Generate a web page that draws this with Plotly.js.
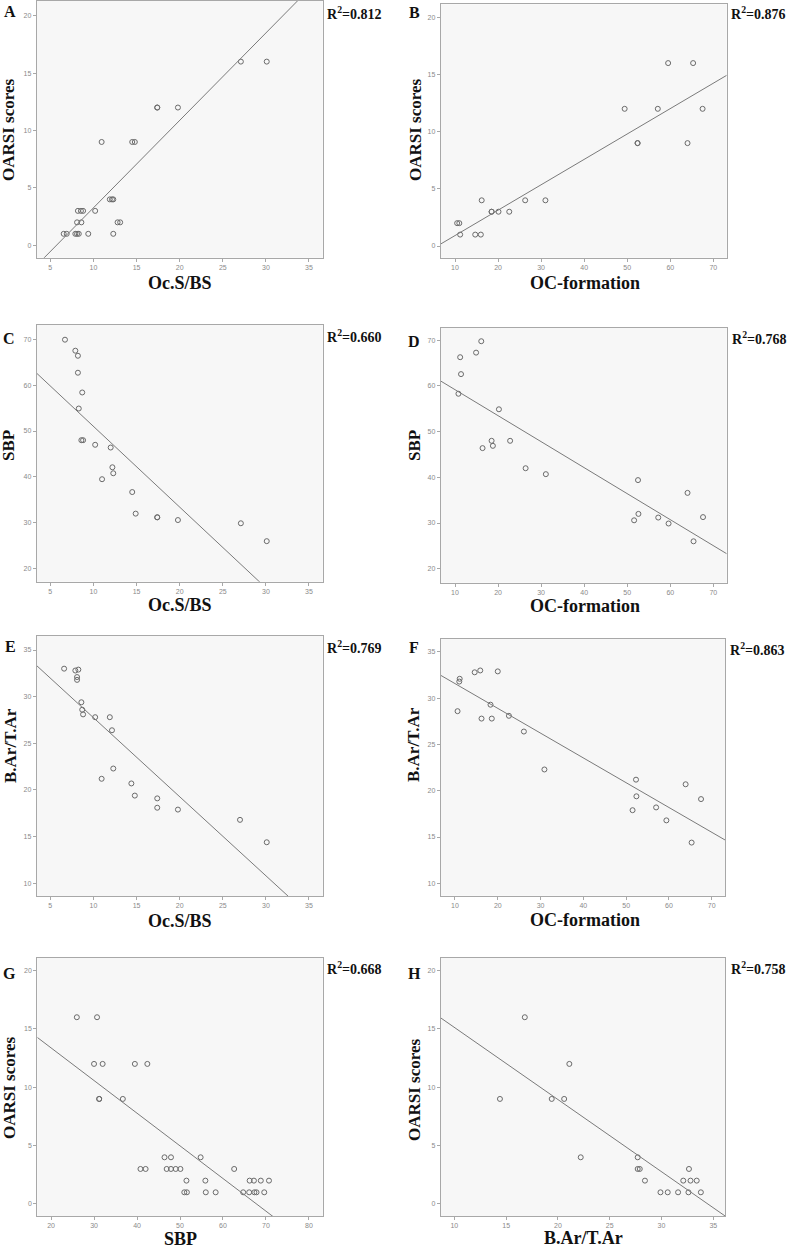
<!DOCTYPE html>
<html>
<head>
<meta charset="utf-8">
<script src="https://cdn.plot.ly/plotly-3.0.1.min.js"></script>
<style>html,body{margin:0;padding:0;background:#fff;}#chart{width:787px;height:1249px;}</style>
</head>
<body>
<div id="chart"></div>
<script>
// ---------- Data ----------
// Panel A: Oc.S/BS vs OARSI scores
const aX = [27.1, 30.1, 17.4, 17.4, 19.8, 10.95, 14.5, 14.8, 11.9, 12.15, 12.3, 8.2, 8.55, 8.8, 10.2, 8.1, 8.6, 12.8, 13.1, 6.55, 6.9, 7.9, 8.1, 8.3, 9.4, 12.3];
const aY = [16, 16, 12, 12, 12, 9, 9, 9, 4, 4, 4, 3, 3, 3, 3, 2, 2, 2, 2, 1, 1, 1, 1, 1, 1, 1];
// Panel B: OC-formation vs OARSI scores
const bX = [59.5, 65.3, 49.4, 57.1, 67.5, 52.4, 52.4, 64.0, 16.2, 26.3, 31.0, 18.5, 18.5, 20.1, 22.6, 10.5, 11.0, 11.2, 14.7, 16.0];
const bY = [16, 16, 12, 12, 12, 9, 9, 9, 4, 4, 4, 3, 3, 3, 3, 2, 2, 1, 1, 1];
// Panel C: Oc.S/BS vs SBP
const cX = [6.7, 7.9, 8.2, 8.2, 8.7, 8.3, 8.6, 8.8, 10.2, 12.0, 12.2, 12.3, 11.0, 14.5, 14.9, 17.4, 17.4, 19.8, 27.1, 30.1];
const cY = [69.9, 67.5, 66.4, 62.7, 58.4, 54.9, 48.0, 48.0, 47.0, 46.4, 42.1, 40.8, 39.5, 36.7, 32.0, 31.2, 31.2, 30.6, 29.9, 26.0];
// Panel D: OC-formation vs SBP
const dX = [16.1, 11.2, 14.9, 11.4, 10.8, 20.2, 18.5, 18.8, 22.8, 16.4, 26.4, 31.1, 52.5, 52.6, 51.6, 57.2, 59.6, 64.0, 67.6, 65.4];
const dY = [69.8, 66.3, 67.3, 62.6, 58.3, 54.9, 48.0, 46.9, 48.0, 46.4, 42.0, 40.7, 39.4, 32.0, 30.6, 31.2, 29.9, 36.6, 31.3, 26.0];
// Panel E: Oc.S/BS vs B.Ar/T.Ar
const eX = [6.6, 7.9, 8.25, 8.1, 8.1, 8.6, 8.7, 8.8, 10.2, 11.9, 12.15, 12.3, 10.95, 14.4, 14.8, 17.4, 17.4, 19.8, 27.0, 30.1];
const eY = [33.0, 32.8, 32.9, 32.1, 31.8, 29.4, 28.6, 28.1, 27.8, 27.8, 26.4, 22.3, 21.2, 20.7, 19.4, 19.1, 18.1, 17.9, 16.8, 14.4];
// Panel F: OC-formation vs B.Ar/T.Ar
const fX = [11.1, 11.0, 10.6, 14.6, 15.9, 20.0, 18.3, 16.2, 18.6, 22.6, 26.1, 30.9, 52.3, 52.4, 51.5, 57.0, 59.4, 63.9, 67.5, 65.3];
const fY = [32.1, 31.8, 28.6, 32.8, 33.0, 32.9, 29.3, 27.8, 27.8, 28.1, 26.4, 22.3, 21.2, 19.4, 17.9, 18.2, 16.8, 20.7, 19.1, 14.4];
// Panel G: SBP vs OARSI scores
const gX = [26.0, 30.7, 30.0, 32.0, 39.5, 42.4, 31.2, 31.2, 36.7, 46.4, 47.9, 54.8, 40.8, 42.0, 46.9, 47.9, 49.0, 50.1, 62.6, 51.5, 55.9, 66.2, 67.2, 68.8, 70.7, 51.0, 51.6, 56.0, 58.3, 64.7, 66.1, 67.3, 67.8, 69.6];
const gY = [16, 16, 12, 12, 12, 12, 9, 9, 9, 4, 4, 4, 3, 3, 3, 3, 3, 3, 3, 2, 2, 2, 2, 2, 2, 1, 1, 1, 1, 1, 1, 1, 1, 1];
// Panel H: B.Ar/T.Ar vs OARSI scores
const hX = [16.8, 21.1, 14.4, 19.4, 20.6, 22.2, 27.7, 27.7, 27.9, 32.65, 28.4, 32.1, 32.8, 33.4, 29.9, 30.6, 31.6, 32.6, 33.8];
const hY = [16, 12, 9, 9, 9, 4, 4, 3, 3, 3, 2, 2, 2, 2, 1, 1, 1, 1, 1];

// Fit lines (slope, intercept) and R²
const fitSlope = [0.7615, 0.2221, -1.759, -0.5692, -0.847, -0.2678, -0.2798, -0.6182];
const fitIntercept = [-4.35, -1.306, 68.61, 64.89, 36.22, 34.26, 18.97, 21.31];
const r2Labels = ["0.812", "0.876", "0.660", "0.768", "0.769", "0.863", "0.668", "0.758"];
const panelLetters = ["A", "B", "C", "D", "E", "F", "G", "H"];
const xTitles = ["Oc.S/BS", "OC-formation", "Oc.S/BS", "OC-formation", "Oc.S/BS", "OC-formation", "SBP", "B.Ar/T.Ar"];
const yTitles = ["OARSI scores", "OARSI scores", "SBP", "SBP", "B.Ar/T.Ar", "B.Ar/T.Ar", "OARSI scores", "OARSI scores"];

const seriesX = [aX, bX, cX, dX, eX, fX, gX, hX];
const seriesY = [aY, bY, cY, dY, eY, fY, gY, hY];

// ---------- Layout geometry (pixels) ----------
const W = 787, H = 1249;
const boxes = [ // [left, right, top, bottom]
  [36.7, 322.7, 1, 257.7],
  [440.7, 726.7, 4.3, 257.7],
  [36.7, 322.7, 325, 581.7],
  [440.7, 726.7, 327.7, 582.7],
  [36.7, 322.7, 636, 896],
  [440.7, 725, 639, 895.7],
  [37.3, 322.7, 957.7, 1216],
  [440.7, 725, 957.7, 1216]
];
const xRanges = [[3.42, 36.59], [6.68, 73.1], [3.42, 36.59], [6.68, 73.1], [3.42, 36.59], [6.66, 73.1], [16.8, 83.2], [8.68, 36.13]];
const yRanges = [[-1.08, 21.28], [-1.02, 21.14], [17.17, 73.1], [16.94, 72.76], [8.64, 36.5], [8.66, 36.4], [-1.03, 21.1], [-1.03, 21.1]];
const xDtick = [5, 10, 5, 10, 5, 10, 10, 5];
const xTick0 = [5, 10, 5, 10, 5, 10, 20, 10];
const yDtick = [5, 5, 10, 10, 5, 5, 5, 5];
const yTick0 = [0, 0, 20, 20, 10, 10, 0, 0];

const letterPos = [[10, 11], [414, 12], [9, 339], [414, 341], [10, 646], [414, 647], [9, 973], [414, 973]];
const r2Pos = [[325, 13], [729, 13], [325, 336], [730, 338], [325, 647], [728, 649], [325, 968], [729, 968]];
const yTitlePos = [[9, 130], [416, 130], [9, 446], [415, 446], [10, 746], [413, 745], [9, 1088], [414, 1090]];
const xTitlePos = [[180, 283], [585, 283], [180, 605], [585, 606], [180, 921], [585, 920], [180, 1238.5], [583, 1238]];

const px = v => v / W;
const py = v => 1 - v / H;

const traces = [];
const layout = {
  width: W, height: H,
  margin: {l: 0, r: 0, t: 0, b: 0},
  paper_bgcolor: '#ffffff',
  showlegend: false,
  font: {family: 'Liberation Sans, Arial, sans-serif'},
  annotations: [],
  shapes: []
};

const serif = 'Liberation Serif, Times New Roman, serif';

for (let i = 0; i < 8; i++) {
  const n = i === 0 ? '' : String(i + 1);
  const xa = 'x' + n, ya = 'y' + n;
  const [l, r, t, b] = boxes[i];
  const axisCommon = {
    showgrid: false, zeroline: false,
    showline: true, mirror: true, linecolor: '#a8a8a8', linewidth: 1,
    ticks: 'outside', ticklen: 3, tickcolor: '#a8a8a8', tickwidth: 1,
    tickfont: {size: 7, color: '#8a8a8a', family: 'Liberation Sans, Arial, sans-serif'},
    tickmode: 'linear', fixedrange: true
  };
  layout['xaxis' + n] = Object.assign({}, axisCommon, {
    domain: [px(l), px(r)], anchor: ya, range: xRanges[i],
    tick0: xTick0[i], dtick: xDtick[i]
  });
  layout['yaxis' + n] = Object.assign({}, axisCommon, {
    domain: [py(b), py(t)], anchor: xa, range: yRanges[i],
    tick0: yTick0[i], dtick: yDtick[i]
  });
  // background of plot area
  layout.shapes.push({
    type: 'rect', xref: xa + ' domain', yref: ya + ' domain',
    x0: 0, x1: 1, y0: 0, y1: 1, fillcolor: '#f7f7f7', line: {width: 0}, layer: 'below'
  });
  // scatter points
  traces.push({
    type: 'scatter', mode: 'markers', x: seriesX[i], y: seriesY[i],
    xaxis: xa, yaxis: ya,
    marker: {symbol: 'circle-open', size: 5, color: '#6a6a6a', line: {width: 1, color: '#6a6a6a'}},
    hoverinfo: 'x+y'
  });
  // fit line across the axis range
  const x0 = xRanges[i][0], x1 = xRanges[i][1];
  traces.push({
    type: 'scatter', mode: 'lines',
    x: [x0, x1],
    y: [fitSlope[i] * x0 + fitIntercept[i], fitSlope[i] * x1 + fitIntercept[i]],
    xaxis: xa, yaxis: ya,
    line: {color: '#7a7a7a', width: 1},
    hoverinfo: 'skip'
  });
  // panel letter
  layout.annotations.push({
    xref: 'paper', yref: 'paper', x: px(letterPos[i][0]), y: py(letterPos[i][1]),
    text: '<b>' + panelLetters[i] + '</b>', showarrow: false,
    xanchor: 'center', yanchor: 'middle',
    font: {family: serif, size: 16, color: '#111'}
  });
  // R² label
  layout.annotations.push({
    xref: 'paper', yref: 'paper', x: px(r2Pos[i][0]), y: py(r2Pos[i][1]),
    text: '<b>R<sup>2</sup>=' + r2Labels[i] + '</b>', showarrow: false,
    xanchor: 'left', yanchor: 'middle',
    font: {family: serif, size: 14, color: '#111'}
  });
  // y-axis title
  layout.annotations.push({
    xref: 'paper', yref: 'paper', x: px(yTitlePos[i][0]), y: py(yTitlePos[i][1]),
    text: '<b>' + yTitles[i] + '</b>', showarrow: false, textangle: -90,
    xanchor: 'center', yanchor: 'middle',
    font: {family: serif, size: 17, color: '#111'}
  });
  // x-axis title
  layout.annotations.push({
    xref: 'paper', yref: 'paper', x: px(xTitlePos[i][0]), y: py(xTitlePos[i][1]),
    text: '<b>' + xTitles[i] + '</b>', showarrow: false,
    xanchor: 'center', yanchor: 'middle',
    font: {family: serif, size: 18, color: '#111'}
  });
}

Plotly.newPlot('chart', traces, layout, {displayModeBar: false, staticPlot: true});
</script>
</body>
</html>
